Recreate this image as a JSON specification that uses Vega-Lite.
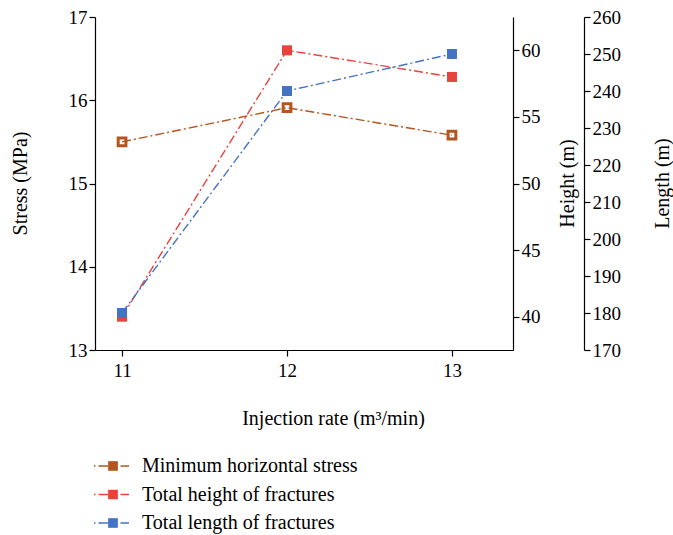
{
  "$schema": "https://vega.github.io/schema/vega-lite/v6.json",
  "width": 418,
  "height": 333,
  "autosize": "none",
  "padding": {"left": 95, "top": 17, "right": 160, "bottom": 185},
  "background": "white",
  "config": {
    "font": "Liberation Serif",
    "view": {"stroke": null},
    "axis": {
      "grid": false,
      "domainColor": "#000",
      "tickColor": "#000",
      "labelColor": "#000",
      "titleColor": "#000",
      "labelFont": "Liberation Serif",
      "titleFont": "Liberation Serif",
      "labelFontSize": 19,
      "titleFontSize": 20,
      "titleFontWeight": "normal",
      "tickSize": 6,
      "domainWidth": 1.2,
      "tickWidth": 1.2
    }
  },
  "data": {
    "values": [
      {"rate": 11, "series": "Minimum horizontal stress", "value": 15.5},
      {"rate": 12, "series": "Minimum horizontal stress", "value": 15.91},
      {"rate": 13, "series": "Minimum horizontal stress", "value": 15.58},
      {"rate": 11, "series": "Total height of fractures", "value": 40},
      {"rate": 12, "series": "Total height of fractures", "value": 60},
      {"rate": 13, "series": "Total height of fractures", "value": 58},
      {"rate": 11, "series": "Total length of fractures", "value": 180},
      {"rate": 12, "series": "Total length of fractures", "value": 240},
      {"rate": 13, "series": "Total length of fractures", "value": 250}
    ]
  },
  "encoding": {
    "x": {
      "field": "rate",
      "type": "quantitative",
      "scale": {"domain": [10.836, 13.37], "nice": false, "zero": false},
      "axis": {"values": [11, 12, 13], "title": "Injection rate (m³/min)", "titleX": 238, "titleY": 68, "titleAlign": "center", "titleBaseline": "middle", "labelPadding": 5}
    },
    "color": {
      "field": "series",
      "type": "nominal",
      "scale": {
        "domain": ["Minimum horizontal stress", "Total height of fractures", "Total length of fractures"],
        "range": ["#B5541E", "#E8433D", "#4472C4"]
      },
      "legend": {
        "orient": "none",
        "legendX": 7,
        "legendY": 438,
        "title": null,
        "symbolType": "M-1.9,0H-1.75M-1.45,0H-0.5M-0.42,-0.42H0.42V0.42H-0.42ZM0.75,0H1.6",
        "symbolSize": 400,
        "symbolStrokeWidth": 1.3,
        "labelFont": "Liberation Serif",
        "labelFontSize": 20,
        "labelLimit": 0,
        "labelColor": "#000",
        "labelOffset": 18,
        "rowPadding": 7.5,
        "padding": 0
      }
    }
  },
  "layer": [
    {
      "transform": [{"filter": "datum.series === 'Minimum horizontal stress'"}],
      "encoding": {
        "y": {
          "field": "value",
          "type": "quantitative",
          "scale": {"domain": [13, 17], "nice": false, "zero": false},
          "axis": {"orient": "left", "values": [13, 14, 15, 16, 17], "title": "Stress (MPa)", "titleX": -75, "titleY": 166, "titleAlign": "center", "titleBaseline": "middle"}
        }
      },
      "layer": [
        {"mark": {"type": "line", "strokeDash": [9, 3, 2, 3], "strokeWidth": 1.4}},
        {"mark": {"type": "point", "shape": "square", "filled": false, "size": 60, "strokeWidth": 3, "opacity": 1}}
      ]
    },
    {
      "transform": [{"filter": "datum.series === 'Total height of fractures'"}],
      "encoding": {
        "y": {
          "field": "value",
          "type": "quantitative",
          "scale": {"domain": [37.5, 62.5], "nice": false, "zero": false},
          "axis": {"orient": "right", "values": [40, 45, 50, 55, 60], "title": "Height (m)", "titleAngle": 270, "titleX": 54, "titleY": 166, "titleAlign": "center", "titleBaseline": "middle"}
        }
      },
      "layer": [
        {"mark": {"type": "line", "strokeDash": [9, 3, 2, 3], "strokeWidth": 1.4}},
        {"mark": {"type": "point", "shape": "square", "filled": true, "size": 100, "opacity": 1}}
      ]
    },
    {
      "transform": [{"filter": "datum.series === 'Total length of fractures'"}],
      "encoding": {
        "y": {
          "field": "value",
          "type": "quantitative",
          "scale": {"domain": [170, 260], "nice": false, "zero": false},
          "axis": {"orient": "right", "offset": 71, "values": [170, 180, 190, 200, 210, 220, 230, 240, 250, 260], "title": "Length (m)", "titleAngle": 270, "titleX": 78, "titleY": 166, "titleAlign": "center", "titleBaseline": "middle"}
        }
      },
      "layer": [
        {"mark": {"type": "line", "strokeDash": [9, 3, 2, 3], "strokeWidth": 1.4}},
        {"mark": {"type": "point", "shape": "square", "filled": true, "size": 100, "opacity": 1}}
      ]
    }
  ],
  "resolve": {"scale": {"y": "independent"}, "axis": {"y": "independent"}}
}
